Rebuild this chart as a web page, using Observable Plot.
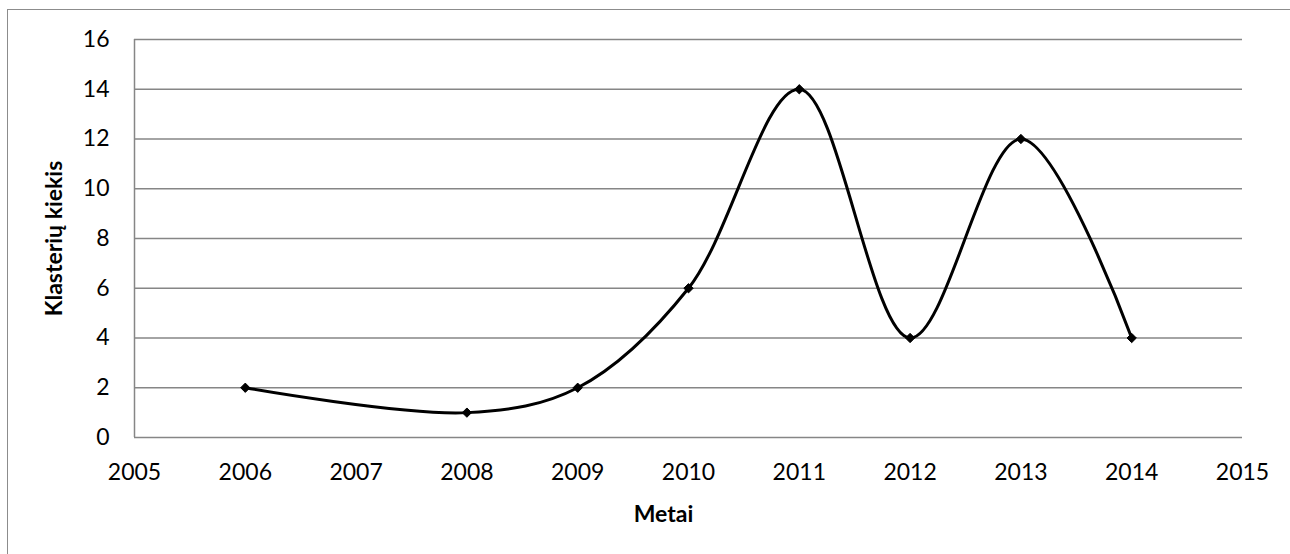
<!DOCTYPE html>
<html>
<head>
<meta charset="utf-8">
<script src="https://cdn.jsdelivr.net/npm/d3@7"></script>
<script src="https://cdn.jsdelivr.net/npm/@observablehq/plot@0.6"></script>
<style>
  html, body { margin: 0; padding: 0; background: #fff; }
  #wrap { position: relative; width: 1290px; height: 554px; overflow: hidden; }
  #border { position: absolute; left: 7px; top: 9px; width: 1400px; height: 700px; border: 1.5px solid #8c8c8c; box-sizing: border-box; }
  #chart { position: absolute; left: 0; top: 0; }
</style>
</head>
<body>
<div id="wrap"><div id="border"></div><div id="chart"></div></div>
<script>
const years = [2006, 2008, 2009, 2010, 2011, 2012, 2013, 2014];
const counts = [2, 1, 2, 6, 14, 4, 12, 4];
const xTicks = [2005, 2006, 2007, 2008, 2009, 2010, 2011, 2012, 2013, 2014, 2015];
const yTicks = [0, 2, 4, 6, 8, 10, 12, 14, 16];
const xTitle = "Metai";
const yTitle = "Klasterių kiekis";

const data = years.map((y, i) => ({year: y, count: counts[i]}));

const chart = Plot.plot({
  width: 1290,
  height: 554,
  marginLeft: 134,
  marginRight: 48,
  marginTop: 39,
  marginBottom: 117,
  style: {fontFamily: "Lato, 'Open Sans', sans-serif", fontSize: "23px", color: "#000", background: "transparent"},
  x: {domain: [2005, 2015], label: null},
  y: {domain: [0, 16], label: null},
  marks: [
    Plot.ruleY(yTicks, {stroke: "#868686", strokeWidth: 1.5}),
    Plot.ruleX([2005], {stroke: "#868686", strokeWidth: 1.5}),
    Plot.axisX({ticks: xTicks, tickFormat: d => String(d), tickSize: 0, tickPadding: 26, fontSize: 23, label: null}),
    Plot.axisY({ticks: yTicks, tickSize: 0, tickPadding: 25, fontSize: 23, label: null}),
    Plot.line(data, {x: "year", y: "count", curve: "catmull-rom", stroke: "#000", strokeWidth: 3}),
    Plot.dot(data, {x: "year", y: "count", symbol: "diamond2", r: 4.2, fill: "#000", stroke: "#000", strokeWidth: 1}),
    Plot.text([xTitle], {frameAnchor: "bottom", dx: -25, dy: 84, fontWeight: "bold", fontSize: 23, fill: "#000"}),
    Plot.text([yTitle], {frameAnchor: "left", dx: -80, rotate: -90, textAnchor: "middle", lineAnchor: "middle", fontWeight: "bold", fontSize: 23, fill: "#000"})
  ]
});
document.getElementById("chart").appendChild(chart);
</script>
</body>
</html>
